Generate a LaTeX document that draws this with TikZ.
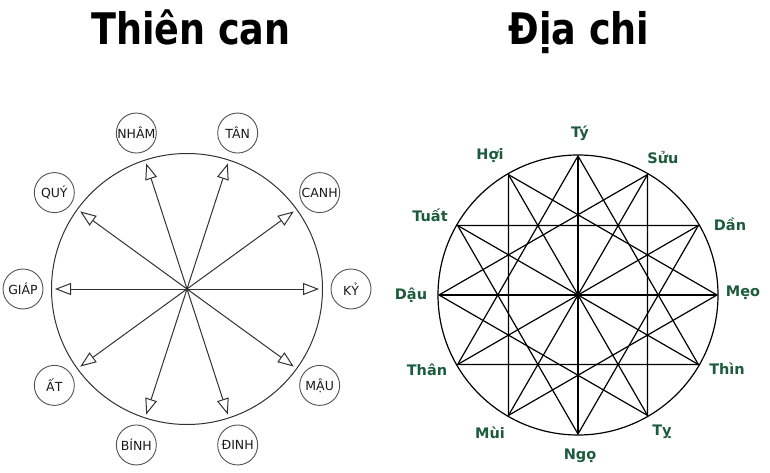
\documentclass[tikz,border=0pt]{standalone}
\usepackage{fontspec}
\setmainfont{DejaVu Sans}
\usetikzlibrary{arrows.meta}
\definecolor{chiGreen}{RGB}{28, 92, 60}
\definecolor{canGray}{RGB}{50, 50, 50}

\begin{document}
\begin{tikzpicture}[x=1pt, y=1pt,
    title/.style={font=\fontsize{43.5}{44}\selectfont\bfseries, inner sep=0pt, anchor=base},
    canlabel/.style={draw=canGray!85, line width=0.9pt, circle, minimum size=40pt, inner sep=0pt,
      font=\fontsize{12.5}{12.5}\selectfont, text=black!90},
    canarrow/.style={canGray, line width=1pt, -{Triangle[open, length=16pt, width=12pt]}},
    chilabel/.style={font=\fontsize{14.5}{15}\selectfont\bfseries, text=chiGreen, inner sep=0pt},
    chiline/.style={black, line width=1.2pt}]

  \useasboundingbox (0,0) rectangle (770,472);

  \node[title] (can-title) at (191,427) {\scalebox{0.84}[1]{Thiên can}};
  \node[title] (chi-title) at (579,427) {\scalebox{0.84}[1]{Địa chi}};

  % Thien can: ten stems, 36 degrees apart
  \begin{scope}[shift={(187,183)}]
    \draw[canGray, line width=1pt] (0,0) circle (135.5);
    \coordinate (can-o) at (0,0);

    \node[canlabel] (ky)   at (0:164)   {KỶ};
    \node[canlabel] (canh) at (36:164)  {CANH};
    \node[canlabel] (tan)  at (72:164)  {TÂN};
    \node[canlabel] (nham) at (108:164) {NHÂM};
    \node[canlabel] (quy)  at (144:164) {QUÝ};
    \node[canlabel] (giap) at (180:164) {GIÁP};
    \node[canlabel] (at)   at (216:164) {ẤT};
    \node[canlabel] (binh) at (252:164) {BÍNH};
    \node[canlabel] (dinh) at (288:164) {ĐINH};
    \node[canlabel] (mau)  at (324:164) {MẬU};

    \coordinate (ky-tip)   at (0:132);
    \coordinate (canh-tip) at (36:132);
    \coordinate (tan-tip)  at (72:132);
    \coordinate (nham-tip) at (108:132);
    \coordinate (quy-tip)  at (144:132);
    \coordinate (giap-tip) at (180:132);
    \coordinate (at-tip)   at (216:132);
    \coordinate (binh-tip) at (252:132);
    \coordinate (dinh-tip) at (288:132);
    \coordinate (mau-tip)  at (324:132);

    \draw[canarrow] (can-o) -- (ky-tip);
    \draw[canarrow] (can-o) -- (canh-tip);
    \draw[canarrow] (can-o) -- (tan-tip);
    \draw[canarrow] (can-o) -- (nham-tip);
    \draw[canarrow] (can-o) -- (quy-tip);
    \draw[canarrow] (can-o) -- (giap-tip);
    \draw[canarrow] (can-o) -- (at-tip);
    \draw[canarrow] (can-o) -- (binh-tip);
    \draw[canarrow] (can-o) -- (dinh-tip);
    \draw[canarrow] (can-o) -- (mau-tip);
  \end{scope}

  % Dia chi: twelve branches, 30 degrees apart
  \begin{scope}[shift={(578,177)}]
    \draw[chiline] (0,0) circle (140);

    \coordinate (ty)   at (90:139);
    \coordinate (suu)  at (60:139);
    \coordinate (dan)  at (30:139);
    \coordinate (meo)  at (0:139);
    \coordinate (thin) at (-30:139);
    \coordinate (ti)   at (-60:139);
    \coordinate (ngo)  at (-90:139);
    \coordinate (mui)  at (-120:139);
    \coordinate (than) at (-150:139);
    \coordinate (dau)  at (180:139);
    \coordinate (tuat) at (150:139);
    \coordinate (hoi)  at (120:139);

    \node[chilabel] (l-ty)   at (2,162)      {Tý};
    \node[chilabel] (l-suu)  at (85,138)     {Sửu};
    \node[chilabel] (l-dan)  at (152,71)     {Dần};
    \node[chilabel] (l-meo)  at (165,2)      {Mẹo};
    \node[chilabel] (l-thin) at (149,-74)    {Thìn};
    \node[chilabel] (l-ti)   at (84,-137)    {Tỵ};
    \node[chilabel] (l-ngo)  at (2,-161)     {Ngọ};
    \node[chilabel] (l-mui)  at (-88,-138)   {Mùi};
    \node[chilabel] (l-than) at (-151,-75)   {Thân};
    \node[chilabel] (l-dau)  at (-167,0)     {Dậu};
    \node[chilabel] (l-tuat) at (-148,80)    {Tuất};
    \node[chilabel] (l-hoi)  at (-88,139)    {Hợi};

    % opposite pairs
    \draw[chiline] (ty) -- (ngo);
    \draw[chiline] (suu) -- (mui);
    \draw[chiline] (dan) -- (than);
    \draw[chiline] (meo) -- (dau);
    \draw[chiline] (thin) -- (tuat);
    \draw[chiline] (ti) -- (hoi);

    % four triangles
    \draw[chiline] (ty) -- (thin) -- (than) -- cycle;
    \draw[chiline] (suu) -- (ti) -- (dau) -- cycle;
    \draw[chiline] (dan) -- (ngo) -- (tuat) -- cycle;
    \draw[chiline] (meo) -- (mui) -- (hoi) -- cycle;
  \end{scope}
\end{tikzpicture}
\end{document}
